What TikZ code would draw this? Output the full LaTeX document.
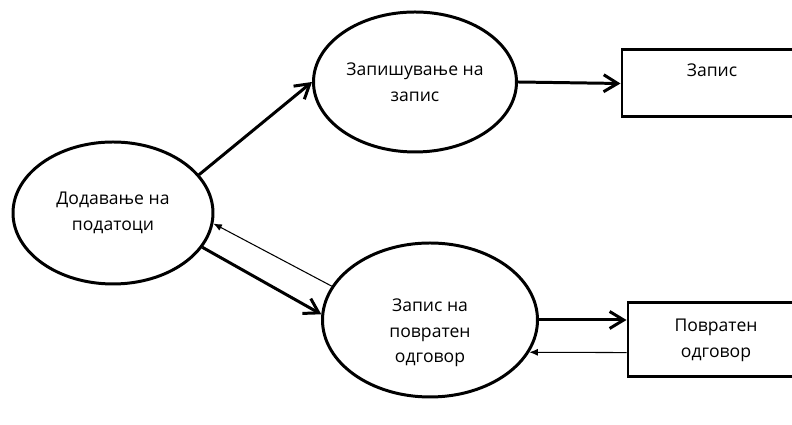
\documentclass[tikz,border=0pt]{standalone}
\usepackage{fontspec}
\setmainfont{Open Sans}
\usetikzlibrary{arrows.meta,shapes.geometric}

\tikzset{
    proc/.style = {draw, ellipse, line width = 1.7pt, align = center, inner sep = 0pt},
    store/.style = {draw, rectangle, line width = 1.7pt, align = center},
    flow/.style = {line width = 1.7pt, -{Straight Barb[length = 0.28cm, width = 0.34cm]}},
    back/.style = {line width = 0.6pt, -{Latex[length = 0.17cm, width = 0.14cm]}}
}

\begin{document}
\begin{tikzpicture}[
    font = \fontsize{10}{14.7}\selectfont
]
\useasboundingbox (-2.26,-4.24) rectangle (13.58,4.26);
\node[proc, minimum width = 4cm, minimum height = 2.84cm] (dod) {Додавање на\\податоци};
\node[proc, minimum width = 4.06cm, minimum height = 2.8cm] (zap) [right of = dod, xshift = 5.04cm, yshift = 2.62cm] {Запишување на\\запис};
\node[proc, minimum width = 4.3cm, minimum height = 3.08cm] (zpo) [right of = dod, xshift = 5.34cm, yshift = -2.14cm] {\phantom{З}\\Запис на\\повратен\\одговор};
\node[store, minimum width = 3.6cm, minimum height = 1.34cm] (zapis) [right of = zap, xshift = 4.94cm, yshift = -0.03cm] {Запис\\\phantom{З}};
\node[store, minimum width = 3.52cm, minimum height = 1.48cm] (povr) [right of = zpo, xshift = 4.72cm, yshift = -0.4cm] {Повратен\\одговор};
% arrows
\path[flow]
(dod.24) edge[] (zap.west)
(dod.339) edge[] (zpo.177)
(zap.east) edge[] (zapis.west)
(zpo.east) edge[] (zpo.east -| povr.west)
;
\path[back]
(zpo.161) edge[] (dod.354)
(povr.188) edge[] (zpo.342)
;

\end{tikzpicture}
\end{document}
